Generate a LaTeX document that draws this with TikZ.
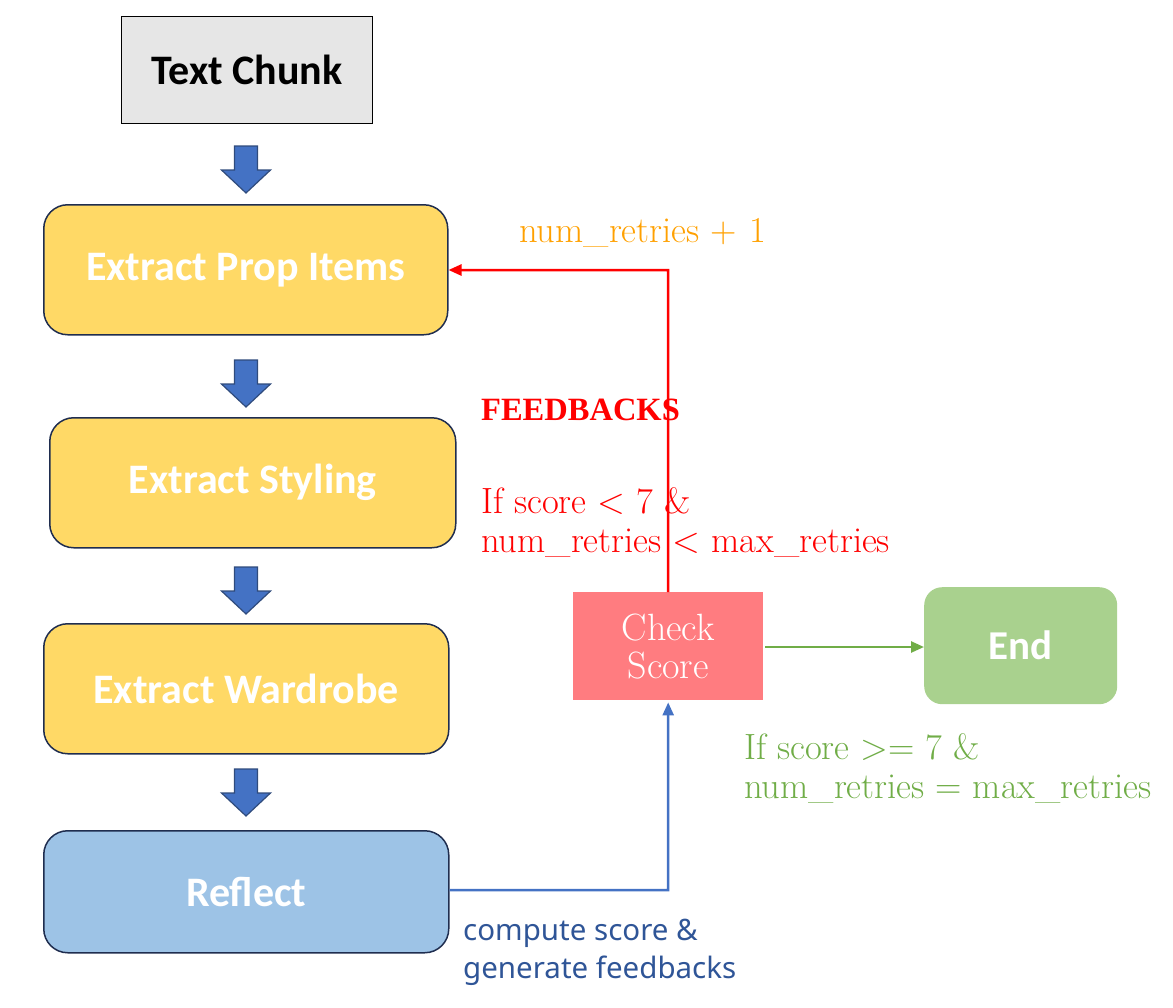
\documentclass[tikz,border=0pt]{standalone}
\usepackage{fontspec}
\setsansfont{Carlito}
\newfontfamily\labelsans{Noto Sans}
\newfontfamily\timesbold{Liberation Serif}
\usetikzlibrary{arrows.meta}
\definecolor{boxyellow}{HTML}{FFD966}
\definecolor{boxblue}{HTML}{9DC3E6}
\definecolor{boxedge}{HTML}{1F2D4F}
\definecolor{chunkgray}{HTML}{E6E6E6}
\definecolor{checkred}{HTML}{FF7C80}
\definecolor{endgreen}{HTML}{A9D18E}
\definecolor{arrblue}{HTML}{4472C4}
\definecolor{arredge}{HTML}{2F4B7C}
\definecolor{linegreen}{HTML}{70AD47}
\definecolor{txtorange}{HTML}{FFA000}
\definecolor{txtblue}{HTML}{2F5597}
\tikzset{
  stagebox/.style={draw=boxedge, line width=1.5pt, rounded corners=24pt, fill=boxyellow,
    text=white, font=\sffamily\bfseries\fontsize{42}{48}\selectfont, anchor=north west},
  blockarr/.style={fill=arrblue, draw=arredge, line width=1.2pt, line join=miter},
  downarrow/.pic={\draw[blockarr] (-11.5,0) -- (11.5,0) -- (11.5,24) -- (24.5,24) -- (0,47) -- (-24.5,24) -- (-11.5,24) -- cycle;},
  redtxt/.style={text=red, font=\fontsize{36.5}{39}\selectfont, align=left, anchor=west, inner sep=0pt},
}
\begin{document}
\begin{tikzpicture}[x=1pt,y=-1pt]
\useasboundingbox (0,0) rectangle (1173,1007);
% Text Chunk
\node[draw=black, line width=1pt, fill=chunkgray, minimum width=251pt, minimum height=107pt, anchor=north west,
  font=\sffamily\bfseries\fontsize{42}{48}\selectfont] (chunk) at (121,16) {Text Chunk};
% stage boxes
\node[stagebox, minimum width=404pt, minimum height=130pt] (prop) at (43,204) {Extract Prop Items};
\node[stagebox, minimum width=406pt, minimum height=130pt] (styl) at (49,417) {Extract Styling};
\node[stagebox, minimum width=405pt, minimum height=130pt] (ward) at (43,623) {Extract Wardrobe};
\node[stagebox, fill=boxblue, minimum width=405pt, minimum height=122pt] (refl) at (43,830) {Reflect};
% block arrows
\pic at (246,146) {downarrow};
\pic at (246,360) {downarrow};
\pic at (246,567) {downarrow};
\pic at (246,769) {downarrow};
% check score
\node[fill=checkred, minimum width=190pt, minimum height=108pt, anchor=north west, text=white, align=center,
  font=\fontsize{38}{38}\selectfont, inner sep=0pt] (check) at (573,592) {Check\\Score};
% end
\node[fill=endgreen, rounded corners=18pt, minimum width=193pt, minimum height=117pt, anchor=north west, text=white,
  font=\sffamily\bfseries\fontsize{41}{48}\selectfont] (endn) at (924,587) {End};
% connectors
\coordinate (rc) at (668,270);
\draw[red, line width=2.5pt, -{Triangle[length=13pt,width=11pt]}] (check.north) -- (rc) -- (prop.east |- rc);
\coordinate (bc) at (668,890);
\draw[arrblue, line width=2.5pt, -{Triangle[length=13pt,width=11pt]}] (refl.east |- bc) -- (bc) -- ([yshift=-2pt]check.south);
\draw[linegreen, line width=2.5pt, -{Triangle[length=13pt,width=11pt]}] ([xshift=2pt]check.east |- 0,647) -- (endn.west |- 0,647);
% labels
\node[text=txtorange, font=\fontsize{36.5}{39}\selectfont, anchor=west, inner sep=0pt] (lretry) at (519,233) {num\_retries +\,\,1};
\node[text=red, font=\timesbold\bfseries\fontsize{32.5}{34}\selectfont, anchor=west, inner sep=0pt] (lfeed) at (481,410) {FEEDBACKS};
\node[redtxt] (lcond) at (481,522) {If score < 7 \&\\num\_retries < max\_retries};
\node[redtxt, text=linegreen] (lgood) at (744,768) {If score >= 7 \&\\num\_retries = max\_retries};
\node[text=txtblue, font=\labelsans\fontsize{29.5}{38}\selectfont, anchor=west, align=left, inner sep=0pt] (lcomp) at (463,952) {compute score \&\\generate feedbacks};
\end{tikzpicture}
\end{document}
